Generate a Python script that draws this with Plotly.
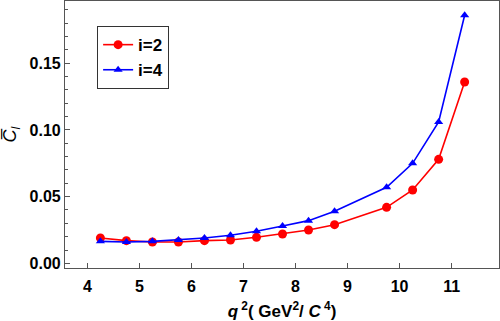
import plotly.graph_objects as go

q2 = [4.25, 4.75, 5.25, 5.75, 6.25, 6.75, 7.25, 7.75, 8.25, 8.75, 9.75, 10.25, 10.75, 11.25]
c_i2 = [0.019, 0.017, 0.016, 0.016, 0.017, 0.0175, 0.0195, 0.022, 0.025, 0.029, 0.042, 0.055, 0.078, 0.136]
c_i4 = [0.0165, 0.016, 0.0165, 0.0175, 0.019, 0.021, 0.024, 0.028, 0.032, 0.039, 0.057, 0.075, 0.106, 0.186]

fnt = "Liberation Sans, Arial, sans-serif"

fig = go.Figure()
fig.add_trace(go.Scatter(x=q2, y=c_i2, name="i=2", mode="lines+markers",
                         line=dict(color="#ff0000", width=1.6),
                         marker=dict(symbol="circle", size=9, color="#ff0000")))
fig.add_trace(go.Scatter(x=q2, y=c_i4, name="i=4", mode="lines+markers",
                         line=dict(color="#0000ff", width=1.6),
                         marker=dict(symbol="triangle-up", size=8, color="#0000ff")))

axis_common = dict(showline=True, linecolor="#555555", linewidth=1.2, mirror=True,
                   showgrid=False, zeroline=False, ticks="inside", tickcolor="#555555",
                   automargin=False,
                   tickfont=dict(family=fnt, size=16, color="black", weight="bold"))

fig.update_xaxes(range=[3.57, 11.91], dtick=1, tick0=4, ticklen=5, ticklabelstandoff=4,
                 title=dict(text="<i>q</i><sup> 2</sup>( GeV<sup>2</sup>/ <i>C</i><sup> 4</sup>)",
                            font=dict(family=fnt, size=17, color="black", weight="bold"),
                            standoff=14),
                 **axis_common)
fig.update_yaxes(range=[-0.0035, 0.1967], dtick=0.05, tick0=0, tickformat=".2f", ticklen=5,
                 minor=dict(dtick=0.01, ticks="inside", ticklen=3, tickcolor="#555555"),
                 title=dict(text="<i>C\u0305</i><sub><i>l</i></sub>",
                            font=dict(family=fnt, size=18, color="black"),
                            standoff=8),
                 **axis_common)

fig.update_layout(
    width=500, height=321,
    margin=dict(l=65, r=1, t=1, b=53),
    paper_bgcolor="white", plot_bgcolor="white",
    legend=dict(x=0.074, y=0.906, xanchor="left", yanchor="top",
                bordercolor="#333333", borderwidth=1, bgcolor="white",
                font=dict(family=fnt, size=17, color="black", weight="bold")),
)

# drop the browser's default body margin so the figure sits at 0,0
fig.write_html("out.html", config={"displayModeBar": False},
               post_script="document.body.style.margin='0';")
